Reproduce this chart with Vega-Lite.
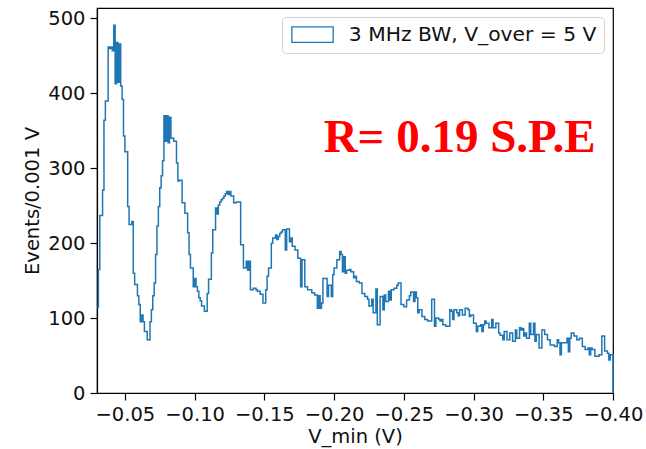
{
 "$schema": "https://vega.github.io/schema/vega-lite/v6.json",
 "width": 516, "height": 385,
 "autosize": {"type": "none"},
 "padding": {"left": 97, "top": 8, "right": 33, "bottom": 56},
 "background": "white",
 "config": {
  "font": "DejaVu Sans",
  "view": {"stroke": "black", "strokeWidth": 1.2},
  "axis": {"grid": false, "domainColor": "black", "domainWidth": 1.2, "tickColor": "black", "tickWidth": 1.2, "tickSize": 7, "labelFont": "DejaVu Sans", "labelFontSize": 19.5, "labelColor": "#111111", "titleFont": "DejaVu Sans", "titleFontSize": 19.5, "titleFontWeight": "normal", "titleColor": "#111111", "labelPadding": 5}
 },
 "datasets": {
  "hist": [
   {"v":-0.030,"n":114},{"v":-0.031,"n":165},{"v":-0.032,"n":237},{"v":-0.033,"n":237},{"v":-0.034,"n":271},{"v":-0.035,"n":364},{"v":-0.036,"n":390},{"v":-0.037,"n":390},{"v":-0.038,"n":462},{"v":-0.039,"n":460},
   {"v":-0.040,"n":462},{"v":-0.041,"n":457},{"v":-0.042,"n":491},{"v":-0.043,"n":413},{"v":-0.044,"n":468},{"v":-0.045,"n":415},{"v":-0.046,"n":466},{"v":-0.047,"n":410},{"v":-0.048,"n":392},{"v":-0.049,"n":343},
   {"v":-0.050,"n":322},{"v":-0.051,"n":322},{"v":-0.052,"n":249},{"v":-0.053,"n":225},{"v":-0.054,"n":225},{"v":-0.055,"n":229},{"v":-0.056,"n":160},{"v":-0.057,"n":145},{"v":-0.058,"n":145},{"v":-0.059,"n":130},
   {"v":-0.060,"n":118},{"v":-0.061,"n":95},{"v":-0.062,"n":104},{"v":-0.063,"n":95},{"v":-0.064,"n":82},{"v":-0.065,"n":82},{"v":-0.066,"n":71},{"v":-0.067,"n":71},{"v":-0.068,"n":95},{"v":-0.069,"n":111},
   {"v":-0.070,"n":130},{"v":-0.071,"n":147},{"v":-0.072,"n":185},{"v":-0.073,"n":223},{"v":-0.074,"n":249},{"v":-0.075,"n":274},{"v":-0.076,"n":290},{"v":-0.077,"n":310},{"v":-0.078,"n":370},{"v":-0.079,"n":336},
   {"v":-0.080,"n":370},{"v":-0.081,"n":334},{"v":-0.082,"n":368},{"v":-0.083,"n":340},{"v":-0.084,"n":340},{"v":-0.085,"n":336},{"v":-0.086,"n":336},{"v":-0.087,"n":307},{"v":-0.088,"n":283},{"v":-0.089,"n":284},
   {"v":-0.090,"n":284},{"v":-0.091,"n":254},{"v":-0.092,"n":254},{"v":-0.093,"n":240},{"v":-0.094,"n":240},{"v":-0.095,"n":214},{"v":-0.096,"n":185},{"v":-0.097,"n":167},{"v":-0.098,"n":167},{"v":-0.099,"n":142},
   {"v":-0.100,"n":153},{"v":-0.101,"n":142},{"v":-0.102,"n":136},{"v":-0.103,"n":127},{"v":-0.104,"n":123},{"v":-0.105,"n":116},{"v":-0.106,"n":116},{"v":-0.107,"n":109},{"v":-0.108,"n":109},{"v":-0.109,"n":133},
   {"v":-0.110,"n":152},{"v":-0.111,"n":152},{"v":-0.112,"n":187},{"v":-0.113,"n":218},{"v":-0.114,"n":218},{"v":-0.115,"n":247},{"v":-0.116,"n":239},{"v":-0.117,"n":251},{"v":-0.118,"n":255},{"v":-0.119,"n":258},
   {"v":-0.120,"n":260},{"v":-0.121,"n":263},{"v":-0.122,"n":266},{"v":-0.123,"n":269},{"v":-0.124,"n":265},{"v":-0.125,"n":269},{"v":-0.126,"n":263},{"v":-0.127,"n":263},{"v":-0.128,"n":254},{"v":-0.129,"n":254},
   {"v":-0.130,"n":255},{"v":-0.131,"n":255},{"v":-0.132,"n":255},{"v":-0.133,"n":198},{"v":-0.134,"n":198},{"v":-0.135,"n":167},{"v":-0.136,"n":167},{"v":-0.137,"n":176},{"v":-0.138,"n":164},{"v":-0.139,"n":176},
   {"v":-0.140,"n":138},{"v":-0.141,"n":138},{"v":-0.142,"n":140},{"v":-0.143,"n":140},{"v":-0.144,"n":138},{"v":-0.145,"n":136},{"v":-0.146,"n":136},{"v":-0.147,"n":132},{"v":-0.148,"n":132},{"v":-0.149,"n":120},
   {"v":-0.150,"n":120},{"v":-0.151,"n":138},{"v":-0.152,"n":156},{"v":-0.153,"n":167},{"v":-0.154,"n":167},{"v":-0.155,"n":200},{"v":-0.156,"n":207},{"v":-0.157,"n":207},{"v":-0.158,"n":211},{"v":-0.159,"n":205},
   {"v":-0.160,"n":209},{"v":-0.161,"n":213},{"v":-0.162,"n":215},{"v":-0.163,"n":218},{"v":-0.164,"n":218},{"v":-0.165,"n":191},{"v":-0.166,"n":219},{"v":-0.167,"n":219},{"v":-0.168,"n":202},{"v":-0.169,"n":207},
   {"v":-0.170,"n":196},{"v":-0.171,"n":196},{"v":-0.172,"n":191},{"v":-0.173,"n":191},{"v":-0.174,"n":180},{"v":-0.175,"n":180},{"v":-0.176,"n":142},{"v":-0.177,"n":178},{"v":-0.178,"n":178},{"v":-0.179,"n":142},
   {"v":-0.180,"n":142},{"v":-0.181,"n":138},{"v":-0.182,"n":138},{"v":-0.183,"n":138},{"v":-0.184,"n":134},{"v":-0.185,"n":134},{"v":-0.186,"n":131},{"v":-0.187,"n":131},{"v":-0.188,"n":113},{"v":-0.189,"n":130},
   {"v":-0.190,"n":113},{"v":-0.191,"n":120},{"v":-0.192,"n":153},{"v":-0.193,"n":153},{"v":-0.194,"n":153},{"v":-0.195,"n":129},{"v":-0.196,"n":144},{"v":-0.197,"n":144},{"v":-0.198,"n":129},{"v":-0.199,"n":158},
   {"v":-0.200,"n":167},{"v":-0.201,"n":167},{"v":-0.202,"n":178},{"v":-0.203,"n":178},{"v":-0.204,"n":189},{"v":-0.205,"n":185},{"v":-0.206,"n":162},{"v":-0.207,"n":182},{"v":-0.208,"n":160},{"v":-0.209,"n":164},
   {"v":-0.210,"n":164},{"v":-0.211,"n":165},{"v":-0.212,"n":162},{"v":-0.213,"n":162},{"v":-0.214,"n":154},{"v":-0.215,"n":156},{"v":-0.216,"n":149},{"v":-0.217,"n":149},{"v":-0.218,"n":147},{"v":-0.219,"n":147},
   {"v":-0.220,"n":133},{"v":-0.221,"n":133},{"v":-0.222,"n":129},{"v":-0.223,"n":129},{"v":-0.224,"n":125},{"v":-0.225,"n":116},{"v":-0.226,"n":116},{"v":-0.227,"n":125},{"v":-0.228,"n":107},{"v":-0.229,"n":107},
   {"v":-0.230,"n":139},{"v":-0.231,"n":91},{"v":-0.232,"n":91},{"v":-0.233,"n":129},{"v":-0.234,"n":129},{"v":-0.235,"n":111},{"v":-0.236,"n":131},{"v":-0.237,"n":122},{"v":-0.238,"n":122},{"v":-0.239,"n":136},
   {"v":-0.240,"n":124},{"v":-0.241,"n":138},{"v":-0.242,"n":138},{"v":-0.243,"n":140},{"v":-0.244,"n":140},{"v":-0.245,"n":144},{"v":-0.246,"n":147},{"v":-0.247,"n":147},{"v":-0.248,"n":118},{"v":-0.249,"n":118},
   {"v":-0.250,"n":115},{"v":-0.251,"n":115},{"v":-0.252,"n":124},{"v":-0.253,"n":124},{"v":-0.254,"n":130},{"v":-0.255,"n":135},{"v":-0.256,"n":135},{"v":-0.257,"n":122},{"v":-0.258,"n":135},{"v":-0.259,"n":127},
   {"v":-0.260,"n":107},{"v":-0.261,"n":111},{"v":-0.262,"n":111},{"v":-0.263,"n":102},{"v":-0.264,"n":102},{"v":-0.265,"n":98},{"v":-0.266,"n":98},{"v":-0.267,"n":96},{"v":-0.268,"n":96},{"v":-0.269,"n":96},
   {"v":-0.270,"n":125},{"v":-0.271,"n":125},{"v":-0.272,"n":89},{"v":-0.273,"n":100},{"v":-0.274,"n":100},{"v":-0.275,"n":98},{"v":-0.276,"n":96},{"v":-0.277,"n":98},{"v":-0.278,"n":91},{"v":-0.279,"n":91},
   {"v":-0.280,"n":89},{"v":-0.281,"n":89},{"v":-0.282,"n":89},{"v":-0.283,"n":111},{"v":-0.284,"n":109},{"v":-0.285,"n":98},{"v":-0.286,"n":111},{"v":-0.287,"n":111},{"v":-0.288,"n":107},{"v":-0.289,"n":103},
   {"v":-0.290,"n":111},{"v":-0.291,"n":111},{"v":-0.292,"n":104},{"v":-0.293,"n":104},{"v":-0.294,"n":113},{"v":-0.295,"n":113},{"v":-0.296,"n":111},{"v":-0.297,"n":102},{"v":-0.298,"n":104},{"v":-0.299,"n":104},
   {"v":-0.300,"n":93},{"v":-0.301,"n":93},{"v":-0.302,"n":82},{"v":-0.303,"n":89},{"v":-0.304,"n":89},{"v":-0.305,"n":91},{"v":-0.306,"n":82},{"v":-0.307,"n":91},{"v":-0.308,"n":96},{"v":-0.309,"n":93},
   {"v":-0.310,"n":93},{"v":-0.311,"n":87},{"v":-0.312,"n":87},{"v":-0.313,"n":98},{"v":-0.314,"n":87},{"v":-0.315,"n":87},{"v":-0.316,"n":93},{"v":-0.317,"n":93},{"v":-0.318,"n":80},{"v":-0.319,"n":77},
   {"v":-0.320,"n":77},{"v":-0.321,"n":71},{"v":-0.322,"n":82},{"v":-0.323,"n":82},{"v":-0.324,"n":71},{"v":-0.325,"n":71},{"v":-0.326,"n":80},{"v":-0.327,"n":80},{"v":-0.328,"n":69},{"v":-0.329,"n":69},
   {"v":-0.330,"n":84},{"v":-0.331,"n":73},{"v":-0.332,"n":73},{"v":-0.333,"n":87},{"v":-0.334,"n":84},{"v":-0.335,"n":86},{"v":-0.336,"n":76},{"v":-0.337,"n":80},{"v":-0.338,"n":73},{"v":-0.339,"n":73},
   {"v":-0.340,"n":93},{"v":-0.341,"n":78},{"v":-0.342,"n":78},{"v":-0.343,"n":93},{"v":-0.344,"n":69},{"v":-0.345,"n":78},{"v":-0.346,"n":78},{"v":-0.347,"n":60},{"v":-0.348,"n":60},{"v":-0.349,"n":84},
   {"v":-0.350,"n":84},{"v":-0.351,"n":78},{"v":-0.352,"n":78},{"v":-0.353,"n":71},{"v":-0.354,"n":71},{"v":-0.355,"n":64},{"v":-0.356,"n":64},{"v":-0.357,"n":64},{"v":-0.358,"n":62},{"v":-0.359,"n":62},
   {"v":-0.360,"n":71},{"v":-0.361,"n":67},{"v":-0.362,"n":51},{"v":-0.363,"n":67},{"v":-0.364,"n":67},{"v":-0.365,"n":67},{"v":-0.366,"n":67},{"v":-0.367,"n":73},{"v":-0.368,"n":55},{"v":-0.369,"n":73},
   {"v":-0.370,"n":80},{"v":-0.371,"n":80},{"v":-0.372,"n":76},{"v":-0.373,"n":76},{"v":-0.374,"n":71},{"v":-0.375,"n":71},{"v":-0.376,"n":73},{"v":-0.377,"n":73},{"v":-0.378,"n":62},{"v":-0.379,"n":62},
   {"v":-0.380,"n":58},{"v":-0.381,"n":58},{"v":-0.382,"n":60},{"v":-0.383,"n":51},{"v":-0.384,"n":60},{"v":-0.385,"n":58},{"v":-0.386,"n":58},{"v":-0.387,"n":49},{"v":-0.388,"n":49},{"v":-0.389,"n":49},
   {"v":-0.390,"n":51},{"v":-0.391,"n":51},{"v":-0.392,"n":76},{"v":-0.393,"n":76},{"v":-0.394,"n":56},{"v":-0.395,"n":56},{"v":-0.396,"n":53},{"v":-0.397,"n":44},{"v":-0.398,"n":51},{"v":-0.399,"n":51},
   {"v":-0.400,"n":0}
  ]
 },
 "layer": [
  {
   "data": {"name": "hist"},
   "mark": {"type": "line", "interpolate": "step-after", "strokeWidth": 1.5},
   "encoding": {
    "x": {"field": "v", "type": "quantitative", "scale": {"domain": [-0.03, -0.4], "nice": false, "zero": false},
          "axis": {"values": [-0.05, -0.1, -0.15, -0.2, -0.25, -0.3, -0.35, -0.4], "format": ".2f", "title": "V_min (V)", "labelFlush": false, "titlePadding": 4}},
    "y": {"field": "n", "type": "quantitative", "scale": {"domain": [0, 514], "nice": false},
          "axis": {"values": [0, 100, 200, 300, 400, 500], "title": "Events/0.001 V", "titlePadding": 5}},
    "order": {"field": "v", "sort": "descending"},
    "color": {"datum": "3 MHz BW, V_over = 5 V", "scale": {"range": ["#1f77b4"]},
              "legend": {"orient": "top-right", "offset": 9, "title": null, "symbolType": "M-1,-1H4.3V1H-1Z", "symbolSize": 243, "symbolStrokeWidth": 1.3, "symbolFillColor": "white", "symbolStrokeColor": "#1f77b4", "labelFont": "DejaVu Sans", "labelFontSize": 20.3, "labelColor": "#111111", "labelOffset": 39, "labelLimit": 400, "padding": 7.5, "strokeColor": "#d0d0d0", "fillColor": "white", "cornerRadius": 4}}
   }
  },
  {
   "data": {"values": [{"label": "R= 0.19 S.P.E"}]},
   "mark": {"type": "text", "font": "Liberation Serif", "fontWeight": "bold", "fontSize": 47, "color": "#ff0000", "align": "center", "baseline": "alphabetic"},
   "encoding": {"x": {"datum": -0.29}, "y": {"datum": 322}, "text": {"field": "label"}}
  }
 ]
}
